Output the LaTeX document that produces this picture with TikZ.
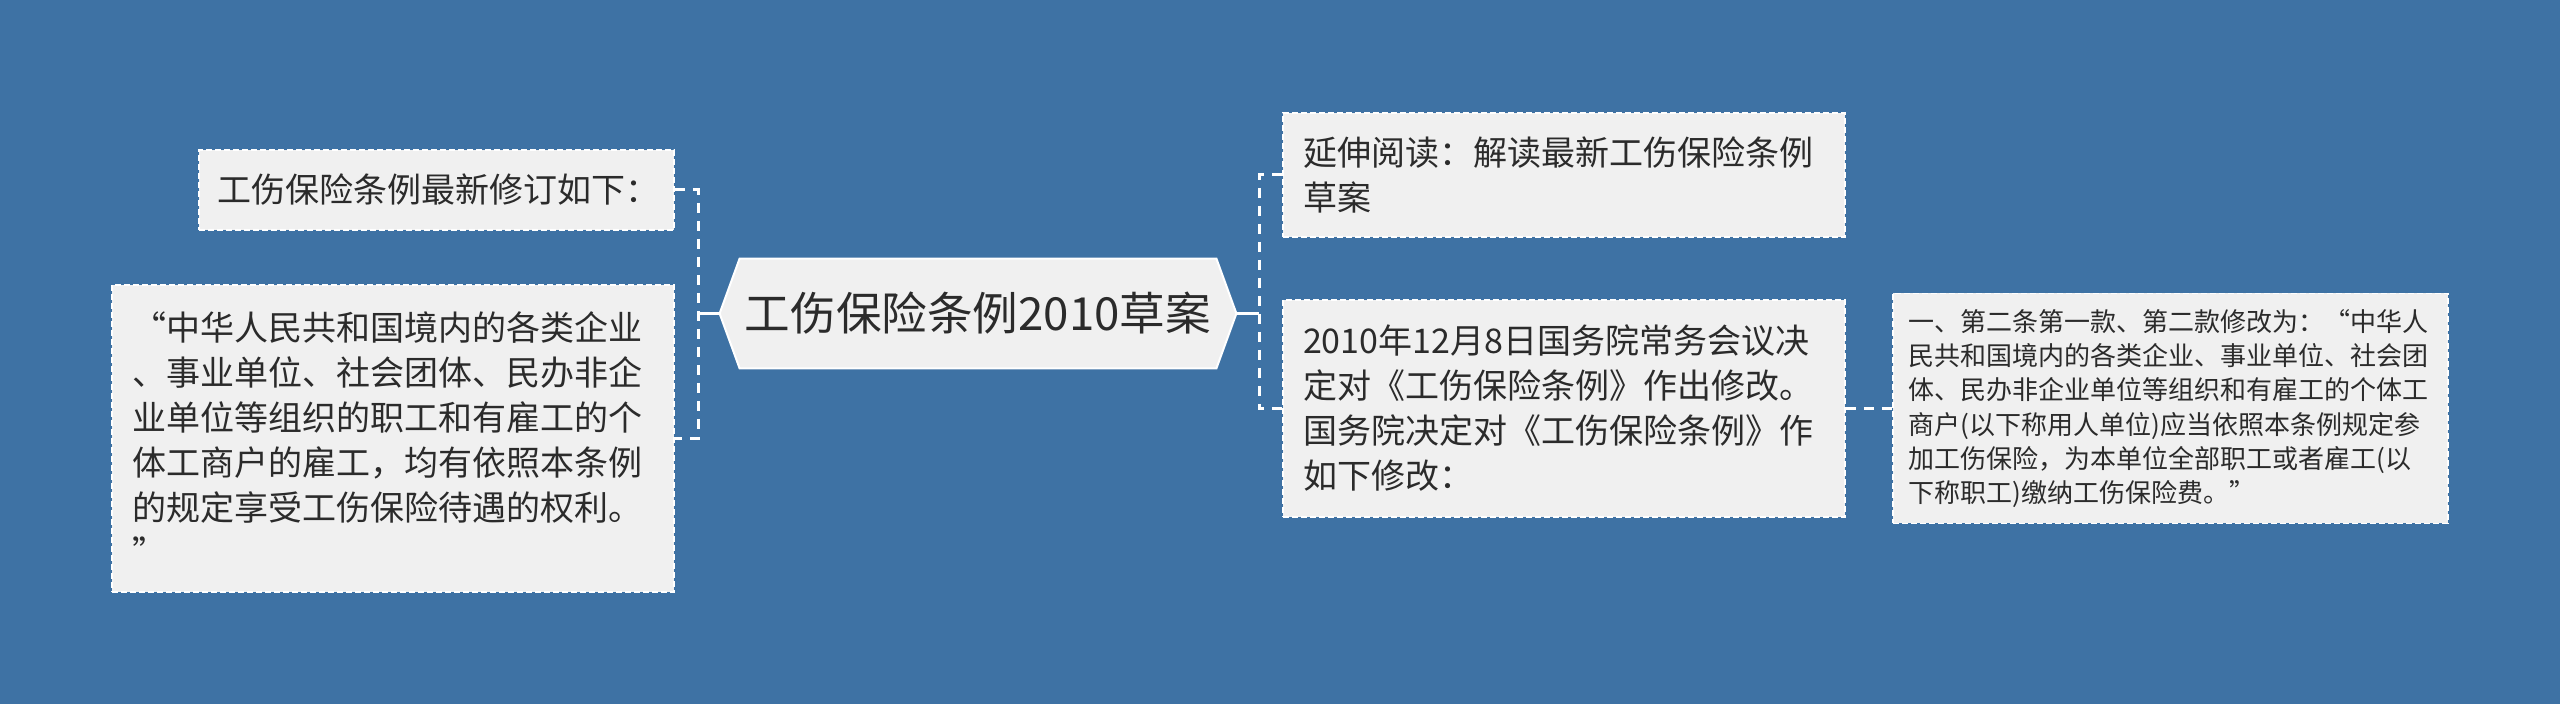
\documentclass[tikz,border=0pt]{standalone}
\usepackage{fontspec}
\setmainfont{Noto Sans CJK SC}
\usetikzlibrary{calc,backgrounds}
\definecolor{bgblue}{HTML}{3E72A4}
\definecolor{boxfill}{HTML}{F0F0F0}
\definecolor{txt}{HTML}{2B2B2B}
\begin{document}
\begin{tikzpicture}[x=0.5pt,y=-0.5pt,
  leaf/.style={draw=white, line width=0.8pt, dash pattern=on 3pt off 1.5pt,
    fill=boxfill, text=txt, align=left, anchor=center, inner ysep=0pt},
  bigtext/.style={font=\fontsize{17pt}{22.5pt}\selectfont},
  smalltext/.style={font=\fontsize{13pt}{17.15pt}\selectfont},
  link/.style={draw=white, line width=1.5pt, dash pattern=on 5pt off 4pt},
  stem/.style={draw=white, line width=1.5pt}]
\useasboundingbox (0,0) rectangle (2560,704);
\begin{pgfonlayer}{background}
  \fill[bgblue] (0,0) rectangle (2560,704);
\end{pgfonlayer}

% root
\node[minimum width=238pt, minimum height=54.5pt, inner sep=0pt, text=txt,
  font=\fontsize{22.8pt}{27pt}\selectfont] (root) at (978,313.5) {工伤保险条例2010草案};
\coordinate (rootL) at ($(root.west)+(-20,0)$);
\coordinate (rootR) at ($(root.east)+(20,0)$);
\begin{pgfonlayer}{background}
  \filldraw[fill=boxfill, draw=white, line width=1pt]
    (root.north west) -- (root.north east) -- (rootR) -- (root.south east)
    -- (root.south west) -- (rootL) -- cycle;
\end{pgfonlayer}

% left branch
\node[leaf, bigtext, minimum width=237.5pt, minimum height=40pt, text width=219.5pt,
  inner xsep=9pt] (A) at (436.5,190) {工伤保险条例最新修订如下：};
\node[leaf, bigtext, minimum width=281pt, minimum height=153.5pt, text width=261pt,
  inner xsep=10pt] (B) at (393,438.5)
  {“中华人民共和国境内的各类企业\\、事业单位、社会团体、民办非企\\业单位等组织的职工和有雇工的个\\体工商户的雇工，均有依照本条例\\的规定享受工伤保险待遇的权利。\\”};

% right branch
\node[leaf, bigtext, minimum width=281pt, minimum height=62pt, text width=261pt,
  inner xsep=10pt] (C) at (1564,175) {延伸阅读：解读最新工伤保险条例\\草案};
\node[leaf, bigtext, minimum width=281pt, minimum height=108.5pt, text width=261pt,
  inner xsep=10pt] (D) at (1564,408.5)
  {2010年12月8日国务院常务会议决\\定对《工伤保险条例》作出修改。\\国务院决定对《工伤保险条例》作\\如下修改：};
\node[leaf, smalltext, minimum width=277.5pt, minimum height=115pt, text width=262pt,
  inner xsep=7.75pt] (E) at (2170.5,408.5)
  {一、第二条第一款、第二款修改为：“中华人\\民共和国境内的各类企业、事业单位、社会团\\体、民办非企业单位等组织和有雇工的个体工\\商户(以下称用人单位)应当依照本条例规定参\\加工伤保险，为本单位全部职工或者雇工(以\\下称职工)缴纳工伤保险费。”};

% junctions
\coordinate (jL) at (698,313.5);
\coordinate (jR) at (1259,313.5);

% connectors
\draw[stem] (rootL) -- (jL);
\draw[link] (A.east) -- (A.east -| jL) -- (B.east -| jL) -- (B.east);
\draw[stem] (rootR) -- (jR);
\draw[link] (C.west) -- (C.west -| jR) -- (D.west -| jR) -- (D.west);
\draw[link] (D.east) -- (E.west);
\end{tikzpicture}
\end{document}
